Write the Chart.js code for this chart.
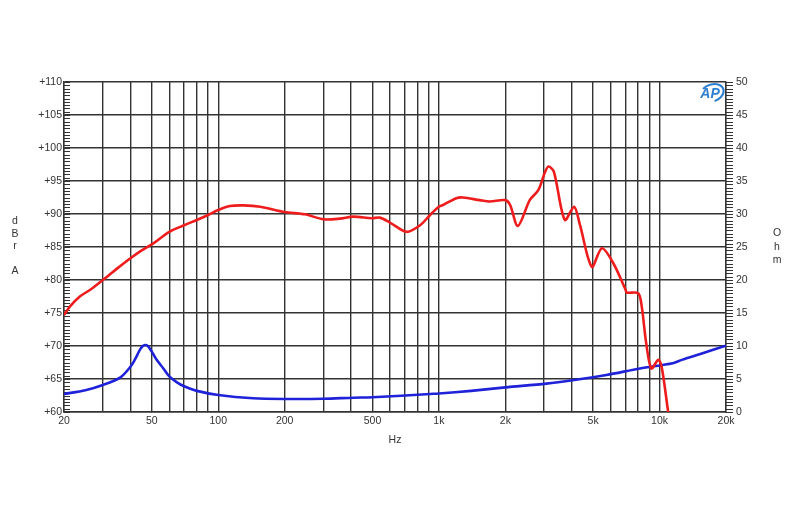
<!DOCTYPE html>
<html>
<head>
<meta charset="utf-8">
<script src="https://cdn.jsdelivr.net/npm/chart.js@4/dist/chart.umd.min.js"></script>
<style>
html,body{margin:0;padding:0;background:#fff;}
canvas{display:block;}
</style>
</head>
<body>
<canvas id="c" width="800" height="520"></canvas>
<script>
// ---- data ----
const freqRed = [20, 21.3, 23.6, 26.5, 30, 35, 40, 45, 50.8, 60, 70, 80, 90, 100, 113, 130, 155, 200, 247, 300, 356, 410, 496, 540, 600, 714, 822, 912, 1000, 1050, 1200, 1285, 1530, 1700, 2000, 2100, 2280, 2580, 2820, 3030, 3140, 3320, 3720, 4100, 4360, 4930, 5480, 6180, 7000, 7100, 8000, 8300, 8700, 9180, 9870, 10250, 10940, 11200];
const dbRed   = [74.7, 76.0, 77.5, 78.6, 80.0, 81.8, 83.3, 84.5, 85.55, 87.3, 88.3, 89.1, 89.85, 90.6, 91.2, 91.3, 91.1, 90.3, 89.95, 89.2, 89.3, 89.6, 89.35, 89.45, 88.7, 87.3, 88.3, 89.85, 91.1, 91.4, 92.4, 92.5, 92.1, 91.9, 92.1, 91.4, 88.2, 92.1, 93.6, 96.4, 97.2, 96.4, 89.1, 91.1, 88.3, 82.0, 84.8, 82.5, 78.6, 78.1, 78.0, 76.0, 70.4, 66.6, 67.9, 66.6, 60.0, 58.0];

const freqBlue = [20, 25, 30, 35.9, 40, 42, 43.2, 44.2, 45.4, 46.6, 47.8, 49, 50.5, 52.6, 56.4, 60, 65, 70, 80, 100, 144, 200, 300, 410, 500, 912, 1000, 1400, 2000, 3070, 4100, 5740, 8150, 11480, 12600, 15300, 20000];
const ohmBlue  = [2.73, 3.3, 4.1, 5.2, 6.86, 8.0, 8.8, 9.45, 9.95, 10.15, 10.05, 9.6, 8.9, 7.9, 6.6, 5.4, 4.5, 3.9, 3.2, 2.58, 2.08, 1.97, 2.0, 2.17, 2.23, 2.73, 2.8, 3.2, 3.73, 4.3, 4.85, 5.6, 6.6, 7.4, 7.9, 8.8, 10.05];

const xTickValues = [20,30,40,50,60,70,80,90,100,200,300,400,500,600,700,800,900,1000,2000,3000,4000,5000,6000,7000,8000,9000,10000,20000];
const xTickLabels = ['20','','','50','','','','','100','200','','','500','','','','','1k','2k','','','5k','','','','','10k','20k'];

const leftTitle = ['d','B','r','','A'];
const rightTitle = ['O','h','m'];

// ---- chart ----
const GRID = '#333';
const FONT = {family: "'Liberation Sans', Arial, sans-serif", size: 10.5};
const TXT = '#333';

const decor = {
  id: 'decor',
  beforeDatasetsDraw(chart) {
    const {ctx, chartArea: a, scales: {y, y2}} = chart;
    ctx.save();
    ctx.strokeStyle = GRID;
    ctx.lineWidth = 1;
    ctx.beginPath();
    for (let i = 0; i <= 100; i++) {
      const py = Math.round(y.getPixelForValue(60 + i * 0.5)) + 0.5;
      ctx.moveTo(a.left, py); ctx.lineTo(a.left + 6, py);
    }
    for (let i = 0; i <= 100; i++) {
      const py = Math.round(y2.getPixelForValue(i * 0.5)) + 0.5;
      ctx.moveTo(a.right, py); ctx.lineTo(a.right + 7, py);
    }
    ctx.stroke();
    ctx.restore();
  },
  afterDraw(chart) {
    const {ctx, chartArea: a} = chart;
    ctx.save();
    ctx.fillStyle = TXT;
    ctx.font = "10.5px 'Liberation Sans', Arial, sans-serif";
    ctx.textAlign = 'center';
    ctx.textBaseline = 'middle';
    leftTitle.forEach((t, i) => ctx.fillText(t, 15, 221.5 + i * 12.4));
    rightTitle.forEach((t, i) => ctx.fillText(t, 777, 233.5 + i * 13.4));
    // AP logo
    const cx = a.right - 15, cy = a.top + 11;
    ctx.strokeStyle = '#2f7fd0';
    ctx.lineWidth = 2;
    ctx.beginPath();
    ctx.ellipse(cx + 1, cy, 12, 8.5, -0.35, -2.2, 1.6);
    ctx.stroke();
    ctx.fillStyle = '#2f7fd0';
    ctx.font = "italic bold 14px 'Liberation Sans', Arial, sans-serif";
    ctx.fillText('AP', cx - 1, cy + 1);
    ctx.restore();
  }
};

const toPts = (xs, ys) => xs.map((x, i) => ({x: x, y: ys[i]}));

new Chart(document.getElementById('c'), {
  type: 'line',
  data: {
    datasets: [
      {
        label: 'dBrA',
        data: toPts(freqRed, dbRed),
        yAxisID: 'y',
        borderColor: '#ee1c1c',
        borderWidth: 2.6,
        pointRadius: 0,
        tension: 0.3,
        fill: false
      },
      {
        label: 'Ohm',
        data: toPts(freqBlue, ohmBlue),
        yAxisID: 'y2',
        borderColor: '#1f22d8',
        borderWidth: 2.6,
        pointRadius: 0,
        tension: 0.3,
        fill: false
      }
    ]
  },
  options: {
    responsive: false,
    animation: false,
    devicePixelRatio: 1,
    layout: {padding: {top: 82, bottom: 68, left: 0, right: 0}},
    plugins: {legend: {display: false}, tooltip: {enabled: false}},
    scales: {
      x: {
        type: 'logarithmic',
        min: 20, max: 20000,
        afterBuildTicks: s => { s.ticks = xTickValues.map(v => ({value: v})); },
        afterFit: s => { s.height = 40; },
        ticks: {
          autoSkip: false, maxRotation: 0, minRotation: 0, padding: 3,
          color: TXT, font: FONT,
          callback: (v, i) => xTickLabels[i]
        },
        grid: {color: GRID, lineWidth: 1.4, drawTicks: false},
        border: {color: GRID, width: 1.4},
        title: {display: true, text: 'Hz', color: TXT, font: FONT, padding: {top: 0, bottom: 6}}
      },
      y: {
        type: 'linear', position: 'left',
        min: 60, max: 110,
        afterFit: s => { s.width = 64; },
        ticks: {stepSize: 5, padding: 2, color: TXT, font: FONT, callback: v => '+' + v},
        grid: {color: GRID, lineWidth: 1.4, drawTicks: false},
        border: {color: GRID, width: 1.4}
      },
      y2: {
        type: 'linear', position: 'right',
        min: 0, max: 50,
        afterFit: s => { s.width = 74; },
        ticks: {stepSize: 5, padding: 10, color: TXT, font: FONT, callback: v => String(v)},
        grid: {drawOnChartArea: false, drawTicks: false},
        border: {color: GRID, width: 1.4}
      }
    }
  },
  plugins: [decor]
});
</script>
</body>
</html>
